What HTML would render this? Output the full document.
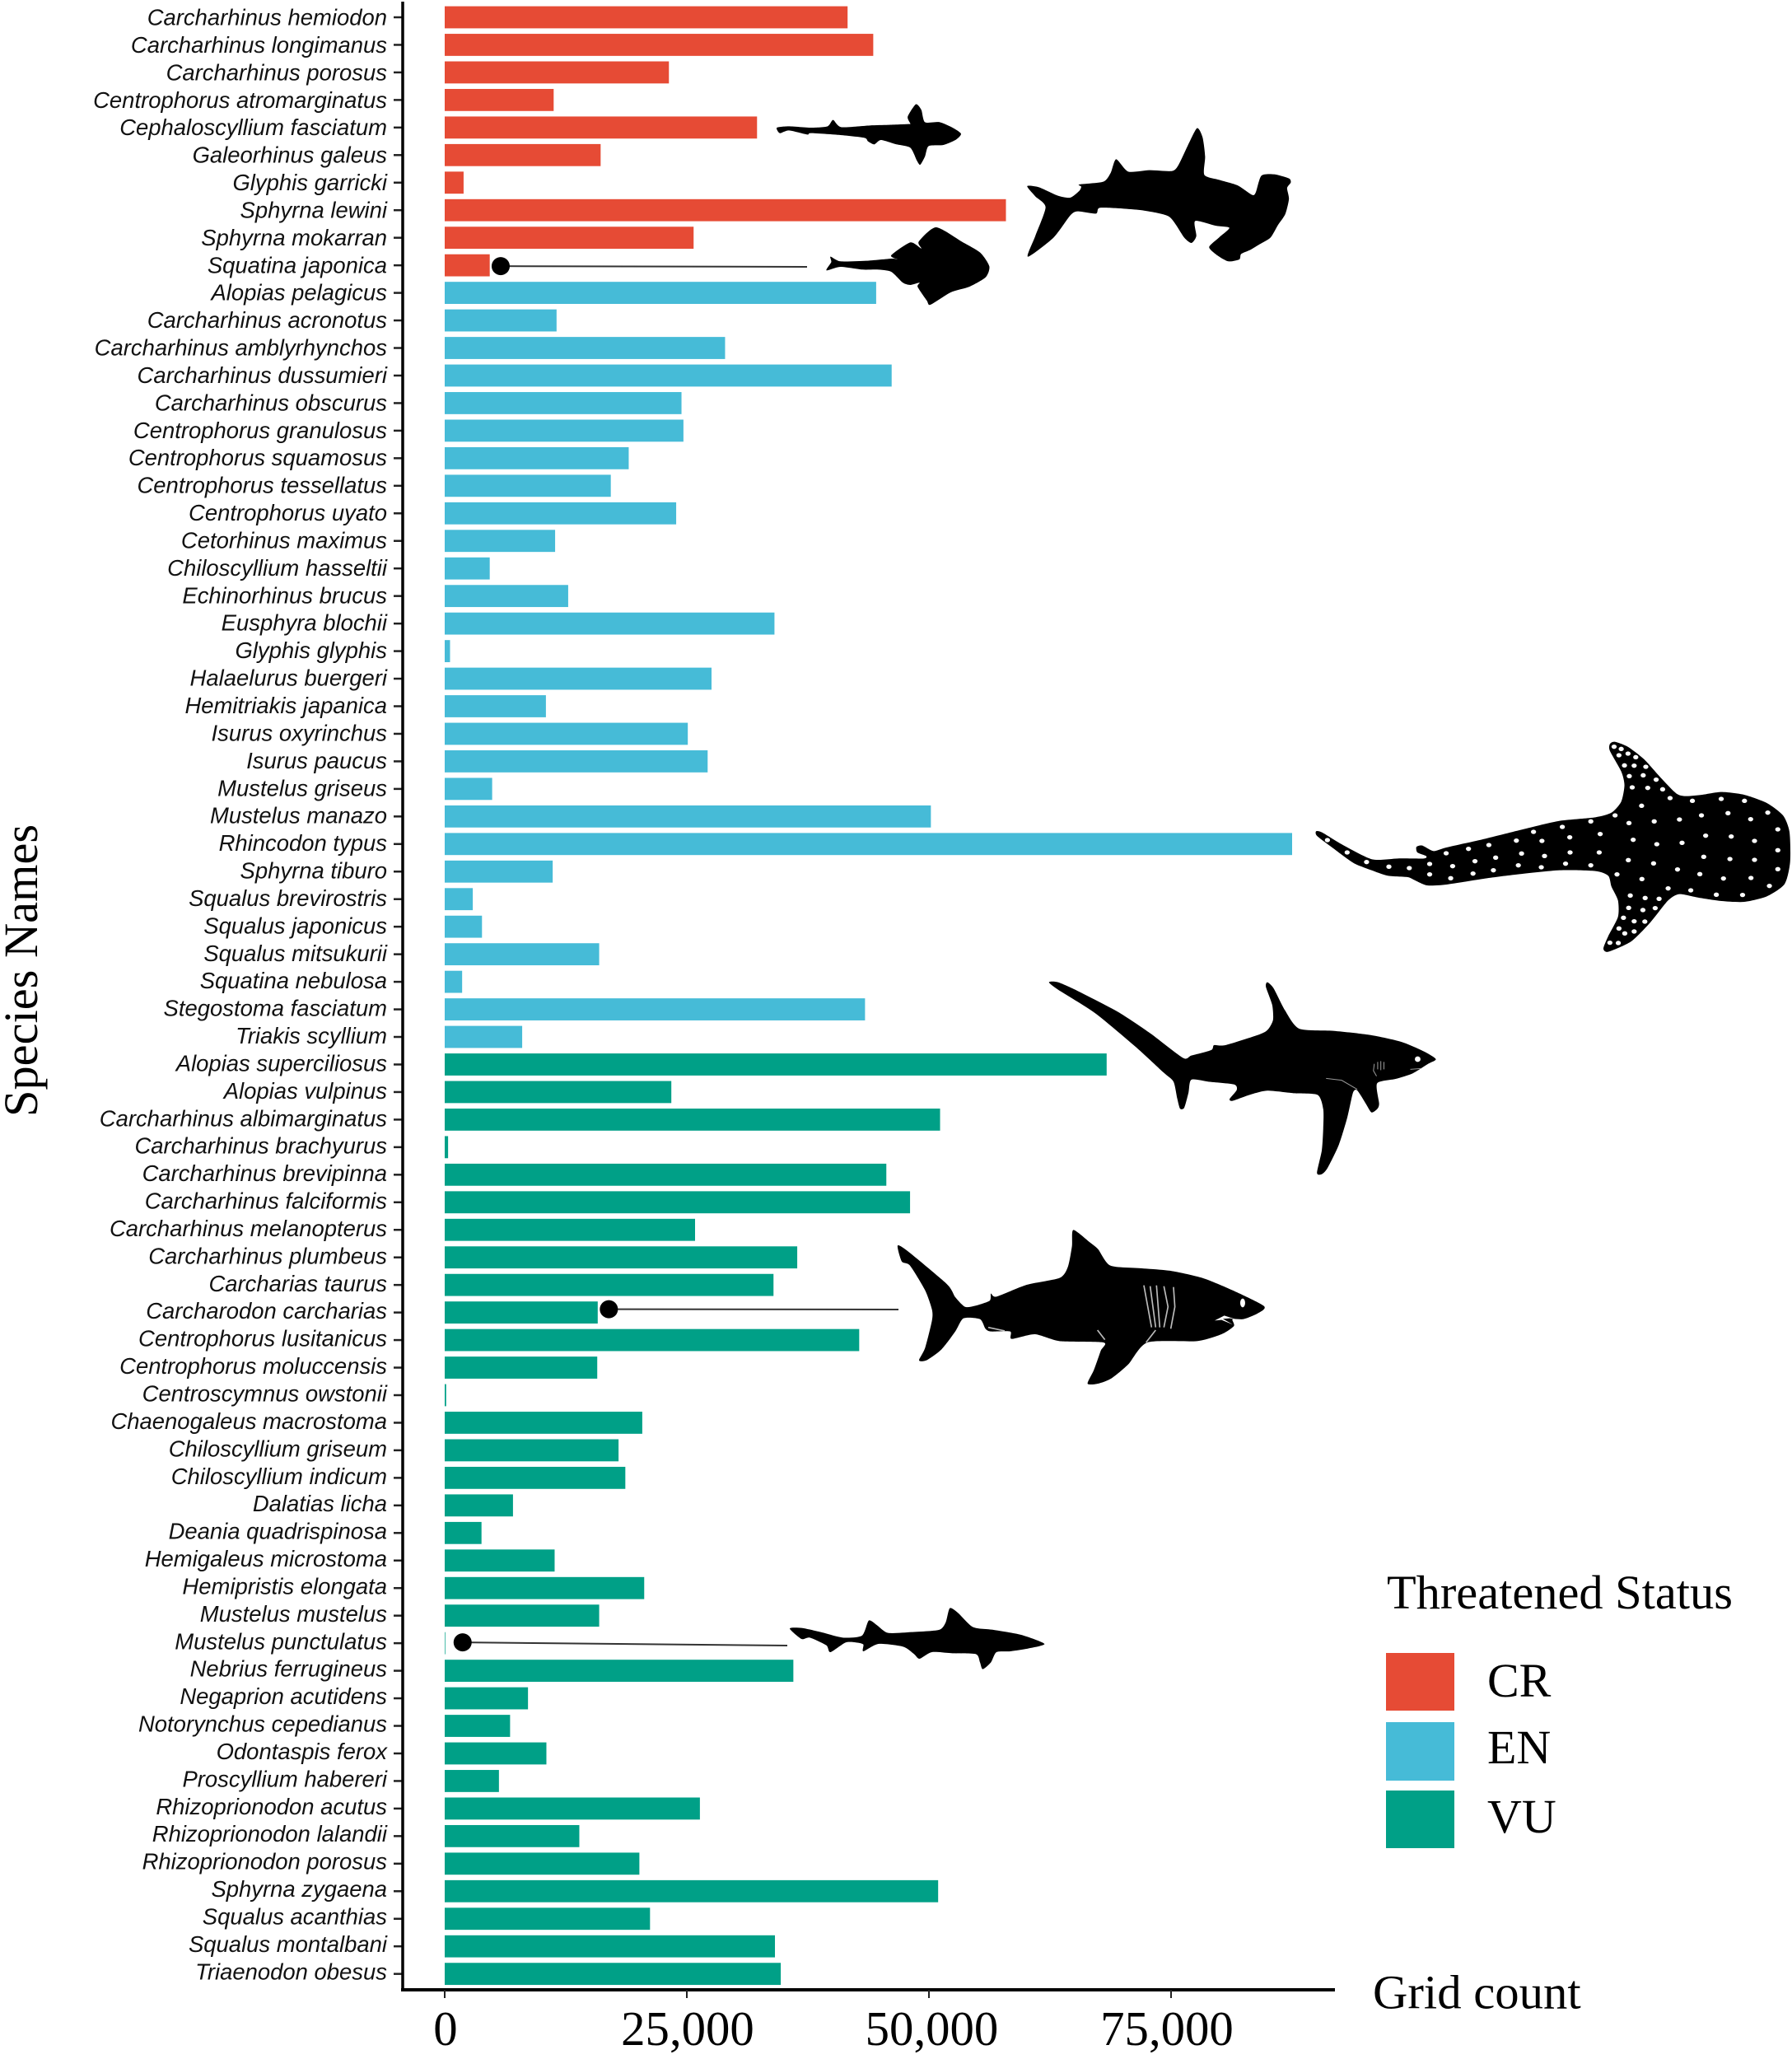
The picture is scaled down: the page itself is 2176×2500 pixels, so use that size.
<!DOCTYPE html>
<html lang="en">
<head>
<meta charset="utf-8">
<title>Threatened shark species grid counts</title>
<style>
html,body{margin:0;padding:0;background:#fff;}
svg{display:block;}
.serif{font-family:"Liberation Serif",serif;fill:#000;}
.species{font-family:"Liberation Sans",sans-serif;font-style:italic;font-size:27.45px;fill:#111;}
</style>
</head>
<body>
<svg id="chart" xmlns="http://www.w3.org/2000/svg" width="2176" height="2500" viewBox="0 0 2176 2500">
  <rect width="2176" height="2500" fill="#fff"/>
  <g id="bars"></g>
  <g id="ylabels"></g>
  <g id="axes"></g>
  <g id="callouts"></g>

  <g transform="translate(900,100) scale(0.4464,0.3333)">
    <path class="sil" fill="#000" d="M97,165 L130,160 190,165 235,160 250,137 272,163 350,157 400,155 455,152 460,150 453,125 475,80 490,100 500,145 540,145 575,165 598,187 585,208 550,228 510,232 500,270 487,300 478,285 460,238 420,225 380,210 362,226 345,215 335,202 270,192 190,185 180,190 130,175 105,185Z"/>
  </g>
  <g transform="translate(900,100) scale(0.4464,0.3333)">
    <path class="sil" fill="#000" d="M778,378 L810,382 860,412 895,420 920,395 925,380 920,372 985,362 1005,330 1020,280 1053,325 1110,320 1172,323 1190,300 1215,230 1240,167 1255,200 1262,270 1260,337 1300,355 1350,375 1390,410 1400,400 1415,340 1450,335 1490,350 1495,365 1485,385 1490,425 1480,480 1460,520 1440,565 1410,590 1385,610 1360,625 1355,645 1325,652 1295,630 1273,600 1300,565 1328,530 1290,522 1235,505 1238,560 1225,585 1205,565 1165,490 1100,468 1040,460 975,457 965,478 915,470 895,485 850,565 780,635 800,560 828,455 800,415Z"/>
  </g>
  <g transform="translate(900,100) scale(0.4464,0.3333)">
    <path class="sil" fill="#000" d="M232,685 L245,655 243,635 270,652 340,650 410,642 425,645 408,630 460,583 490,605 483,580 530,528 600,580 650,620 675,670 665,710 620,745 570,765 515,810 505,795 480,745 485,730 460,738 440,730 408,690 370,682 330,682 270,672Z"/>
  </g>
  <g id="whale-shark" transform="translate(1560,880) scale(0.3929,0.3333)">
    <path class="sil" fill="#000" d="M97,388 L115,392 180,438 270,490 350,487 430,487 437,478 410,465 407,445 425,440 460,460 500,447 620,415 750,377 850,350 960,337 1010,320 1040,280 1050,220 1040,170 1005,95 1005,70 1020,62 1060,80 1110,125 1160,190 1210,250 1240,260 1290,255 1350,245 1420,255 1490,285 1540,330 1560,390 1562,500 1545,580 1490,625 1420,645 1350,642 1280,630 1220,617 1185,640 1130,720 1070,790 1000,827 985,815 1000,770 1030,700 1030,640 1010,590 1000,550 960,533 850,530 720,545 620,560 500,582 440,585 400,565 380,555 320,550 280,535 215,505 150,450 100,405Z"/>
  </g>
  <g transform="translate(1240,1170) scale(0.3444,0.3333)">
    <path class="sil" fill="#000" d="M98,68 L130,68 200,100 340,175 450,250 570,343 600,335 670,315 680,297 720,297 840,258 870,240 888,205 885,150 863,85 868,68 890,90 930,170 980,237 1100,245 1230,260 1340,285 1420,320 1462,348 1435,365 1380,400 1320,420 1255,436 1262,510 1255,530 1235,542 1215,510 1185,462 1170,470 1150,560 1120,660 1080,745 1060,767 1043,762 1060,680 1065,600 1065,530 1045,478 960,472 865,463 800,480 745,500 735,493 760,460 750,440 660,430 600,423 590,470 575,525 560,528 550,490 537,430 500,395 400,300 260,180 130,95Z"/>
    <ellipse cx="1398" cy="348" rx="10" ry="10" fill="#fff"/>
    <path fill="none" stroke="#999" stroke-width="3" d="M1075,418 L1130,425 1185,458 M1245,365 L1242,390 1253,410 M1257,358 V385 M1268,355 V388 M1279,358 V385 M1372,385 L1410,382"/>
  </g>
  <g transform="translate(1070,1480) scale(0.3333,0.3333)">
    <path class="sil" fill="#000" d="M60,97 L100,120 240,238 270,285 305,320 340,317 395,298 400,272 420,283 530,240 650,215 680,175 695,100 700,40 760,85 790,110 835,170 950,180 1060,190 1170,215 1280,260 1395,318 1370,345 1320,365 1280,365 1285,390 1240,420 1150,445 970,450 900,530 840,580 790,600 752,600 775,550 800,480 810,450 650,445 560,420 475,437 470,410 400,410 380,400 360,365 300,362 270,410 220,475 165,515 138,515 160,470 185,370 185,330 160,260 105,170 75,155Z"/>
    <ellipse cx="1317" cy="306" rx="9" ry="16" fill="#fff"/>
    <path fill="none" stroke="#bbb" stroke-width="5" d="M957,242 L985,395 M980,245 L1000,395 M1003,242 L1015,395 M1030,245 L1045,320 1030,395 M1065,248 L1070,320 1055,400 M1000,405 L965,450 M788,405 L815,440 M390,395 L450,408"/>
    <path fill="#fff" d="M1215,370 L1250,352 1290,365 1270,362 1245,364 1282,385 1240,368Z"/>
  </g>
  <g transform="translate(940,1930) scale(0.3333,0.3333)">
    <path class="sil" fill="#000" d="M57,142 L100,140 170,155 250,175 320,168 345,113 375,130 415,158 500,155 600,147 625,120 640,68 670,85 725,137 800,147 900,165 985,198 925,215 860,225 810,228 790,265 760,290 750,265 735,235 650,232 575,228 530,252 510,235 470,208 380,198 325,225 325,200 300,193 260,193 205,228 190,203 130,175 100,180Z"/>
  </g>

  <text class="serif" font-size="58.4" transform="translate(45,1356) rotate(-90)">Species Names</text>
  <text class="serif" font-size="58.7" x="1667" y="2438.5">Grid count</text>

  <g>
    <text class="serif" font-size="58.4" x="1684" y="1953">Threatened Status</text>
    <rect x="1683" y="2007" width="83" height="70" fill="#E64B35"/>
    <text class="serif" font-size="58" x="1806" y="2060">CR</text>
    <rect x="1683" y="2091" width="83" height="71" fill="#46BBD7"/>
    <text class="serif" font-size="58" x="1806" y="2141">EN</text>
    <rect x="1683" y="2174" width="83" height="70" fill="#00A087"/>
    <text class="serif" font-size="58" x="1806" y="2225">VU</text>
  </g>
</svg>
<script>
const speciesNames = ["Carcharhinus hemiodon","Carcharhinus longimanus","Carcharhinus porosus","Centrophorus atromarginatus","Cephaloscyllium fasciatum","Galeorhinus galeus","Glyphis garricki","Sphyrna lewini","Sphyrna mokarran","Squatina japonica","Alopias pelagicus","Carcharhinus acronotus","Carcharhinus amblyrhynchos","Carcharhinus dussumieri","Carcharhinus obscurus","Centrophorus granulosus","Centrophorus squamosus","Centrophorus tessellatus","Centrophorus uyato","Cetorhinus maximus","Chiloscyllium hasseltii","Echinorhinus brucus","Eusphyra blochii","Glyphis glyphis","Halaelurus buergeri","Hemitriakis japanica","Isurus oxyrinchus","Isurus paucus","Mustelus griseus","Mustelus manazo","Rhincodon typus","Sphyrna tiburo","Squalus brevirostris","Squalus japonicus","Squalus mitsukurii","Squatina nebulosa","Stegostoma fasciatum","Triakis scyllium","Alopias superciliosus","Alopias vulpinus","Carcharhinus albimarginatus","Carcharhinus brachyurus","Carcharhinus brevipinna","Carcharhinus falciformis","Carcharhinus melanopterus","Carcharhinus plumbeus","Carcharias taurus","Carcharodon carcharias","Centrophorus lusitanicus","Centrophorus moluccensis","Centroscymnus owstonii","Chaenogaleus macrostoma","Chiloscyllium griseum","Chiloscyllium indicum","Dalatias licha","Deania quadrispinosa","Hemigaleus microstoma","Hemipristis elongata","Mustelus mustelus","Mustelus punctulatus","Nebrius ferrugineus","Negaprion acutidens","Notorynchus cepedianus","Odontaspis ferox","Proscyllium habereri","Rhizoprionodon acutus","Rhizoprionodon lalandii","Rhizoprionodon porosus","Sphyrna zygaena","Squalus acanthias","Squalus montalbani","Triaenodon obesus"];
const statusCounts = {CR:10, EN:28, VU:34};
const gridCounts = [41600,44250,23150,11250,32250,16100,1950,57950,25700,4650,44550,11550,28950,46150,24450,24650,19000,17150,23900,11400,4650,12750,34050,550,27550,10450,25100,27150,4900,50200,87500,11150,2900,3850,15950,1800,43400,8000,68350,23400,51150,350,45600,48050,25850,36400,33950,15800,42800,15750,150,20400,17950,18650,7050,3800,11350,20600,15950,60,36000,8600,6750,10500,5600,26350,13900,20100,50950,21200,34100,34700];
const xTickValues = [0,25000,50000,75000];
const xTickLabels = ["0","25,000","50,000","75,000"];
const calloutSpecies = ["Squatina japonica","Carcharodon carcharias","Mustelus punctulatus"];
const calloutCounts = [5780,16950,1850];
const statusColors = {CR:"#E64B35", EN:"#46BBD7", VU:"#00A087"};
const whaleSharkSpots = [[132,420],[193,465],[253,500],[322,517],[385,522],[448,507],[448,545],[513,559],[499,468],[519,515],[582,542],[588,497],[568,452],[631,438],[652,484],[645,530],[722,512],[732,469],[716,422],[769,390],[795,423],[803,478],[793,519],[858,372],[881,410],[882,465],[868,506],[946,352],[975,398],[972,465],[946,512],[1021,330],[1064,358],[1077,419],[1062,493],[1027,545],[1103,295],[1142,352],[1150,435],[1140,505],[1104,562],[1191,267],[1220,345],[1228,430],[1214,527],[1185,596],[1260,277],[1288,330],[1301,404],[1295,481],[1283,544],[1255,603],[1349,270],[1370,322],[1380,407],[1376,489],[1356,560],[1334,619],[1421,277],[1440,344],[1452,423],[1452,492],[1441,558],[1415,620],[1493,320],[1524,381],[1524,457],[1524,526],[1498,587],[1018,80],[1040,88],[1033,111],[1061,105],[1085,118],[1050,148],[1080,149],[1116,153],[1065,187],[1108,184],[1148,200],[1074,228],[1122,230],[1168,235],[1068,622],[1114,631],[1157,634],[1063,667],[1107,675],[1145,668],[1047,703],[1080,716],[1113,717],[1033,742],[1051,760],[1080,753],[1005,794],[1031,795]];

const NS = "http://www.w3.org/2000/svg";
const xScale = v => 540 + v * 294 / 25000;
const yScale = i => 21 + i * 33.46;
const labelBaseline = i => 30.5 + i * 33.42;
const BAR_H = 26.8;
function statusOf(i){
  if (i < statusCounts.CR) return "CR";
  if (i < statusCounts.CR + statusCounts.EN) return "EN";
  return "VU";
}
function make(tag, attrs, parent){
  const el = document.createElementNS(NS, tag);
  for (const k in attrs) el.setAttribute(k, attrs[k]);
  parent.appendChild(el);
  return el;
}
const barsG = document.getElementById("bars");
const labelsG = document.getElementById("ylabels");
const axesG = document.getElementById("axes");
const calloutsG = document.getElementById("callouts");

speciesNames.forEach((name, i) => {
  const slug = name.toLowerCase().replace(/\s+/g, "-");
  const y = yScale(i);
  const bar = make("rect", {x: xScale(0), y: y - BAR_H / 2, width: xScale(gridCounts[i]) - xScale(0), height: BAR_H, fill: statusColors[statusOf(i)]}, barsG);
  
  
  const label = make("text", {x: 470, y: labelBaseline(i), "text-anchor": "end", class: "species"}, labelsG);
  label.textContent = name;
  
  
  const tick = make("line", {x1: 478, x2: 489, y1: y, y2: y, stroke: "#222", "stroke-width": 2.5}, axesG);
  
  
});

const yAxis = make("line", {x1: 489, x2: 489, y1: 2, y2: 2418, stroke: "#000", "stroke-width": 3.5}, axesG);


const xAxis = make("line", {x1: 487, x2: 1621, y1: 2416, y2: 2416, stroke: "#000", "stroke-width": 4}, axesG);



const tickLabelNudge = [1, 1, 3.5, -5];
xTickValues.forEach((v, i) => {
  const tick = make("line", {x1: xScale(v), x2: xScale(v), y1: 2416, y2: 2426, stroke: "#222", "stroke-width": 2}, axesG);
  
  
  const label = make("text", {x: xScale(v) + tickLabelNudge[i], y: 2483, "text-anchor": "middle", class: "serif", "font-size": 58.8}, axesG);
  label.textContent = xTickLabels[i];
  
  
});

const calloutEnds = [[980,324],[1091,1590],[956,1998]];
const calloutRowShift = [1,-4,-1];
calloutSpecies.forEach((name, i) => {
  const cx = xScale(calloutCounts[i]);
  const cy = yScale(speciesNames.indexOf(name)) + calloutRowShift[i];
  const line = make("line", {x1: cx, y1: cy, x2: calloutEnds[i][0], y2: calloutEnds[i][1], stroke: "#333", "stroke-width": 2}, calloutsG);
  
  
  const dot = make("circle", {cx: cx, cy: cy, r: 11, fill: "#000"}, calloutsG);
  
  
});

// Smooth the traced silhouette outlines into closed curves.
document.querySelectorAll("path.sil").forEach(path => {
  const n = path.getAttribute("d").match(/-?\d+(\.\d+)?/g).map(Number);
  const pts = [];
  for (let i = 0; i < n.length; i += 2) pts.push([n[i], n[i + 1]]);
  const t = 0.7 / 6;
  let d = "M" + pts[0].join(",");
  pts.forEach((p, i) => {
    const p0 = pts[(i - 1 + pts.length) % pts.length];
    const p2 = pts[(i + 1) % pts.length];
    const p3 = pts[(i + 2) % pts.length];
    d += " C" + (p[0] + (p2[0] - p0[0]) * t).toFixed(1) + "," + (p[1] + (p2[1] - p0[1]) * t).toFixed(1) +
         " " + (p2[0] - (p3[0] - p[0]) * t).toFixed(1) + "," + (p2[1] - (p3[1] - p[1]) * t).toFixed(1) +
         " " + p2[0] + "," + p2[1];
  });
  path.setAttribute("d", d + "Z");
});

const whaleG = document.getElementById("whale-shark");
whaleSharkSpots.forEach(p => {
  const spot = make("circle", {cx: p[0], cy: p[1], r: 8, fill: "#fff"}, whaleG);
  
  
});
</script>
</body>
</html>
